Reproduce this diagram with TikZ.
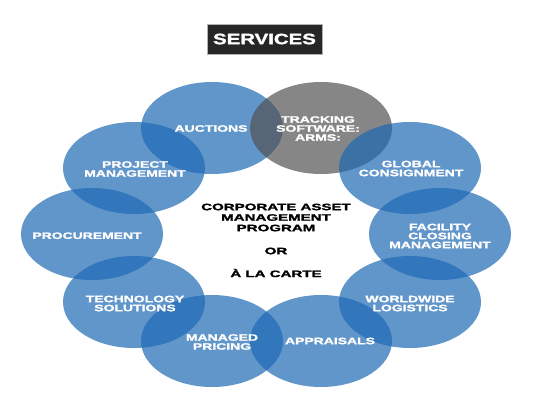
\documentclass[tikz,border=0pt]{standalone}
\usepackage{fontspec}
\setmainfont{Liberation Sans}[BoldFeatures={FakeBold=1.5}]
\usetikzlibrary{shapes.geometric}
\definecolor{bubbleblue}{RGB}{30,105,180}
\definecolor{trackgray}{RGB}{82,82,82}
\definecolor{boxgray}{RGB}{38,38,38}
\begin{document}
\begin{tikzpicture}[x=1pt, y=-1pt,
    bubble/.style={ellipse, fill=bubbleblue, fill opacity=0.7, minimum width=142pt, minimum height=92pt, inner sep=0pt},
    graybubble/.style={bubble, fill=trackgray, fill opacity=0.7},
    lbl/.style={text=white, font=\fontsize{9.3}{9}\selectfont\bfseries, align=center, xscale=1.5, inner sep=0pt},
    midtxt/.style={text=black, font=\fontsize{9.3}{9}\selectfont\bfseries, align=center, xscale=1.62, inner sep=0pt}]
  \useasboundingbox (0,0) rectangle (555,410);
  % bubbles
  \node[bubble] (auc) at (212,128) {};
  \node[graybubble] (trk) at (321,128) {};
  \node[bubble] (glb) at (410,168) {};
  \node[bubble] (fac) at (440,234) {};
  \node[bubble] (wld) at (410,302) {};
  \node[bubble] (apr) at (321,341) {};
  \node[bubble] (mpr) at (212,341) {};
  \node[bubble] (tec) at (134,302) {};
  \node[bubble] (prc) at (92,234) {};
  \node[bubble] (pjm) at (134,168) {};
  % labels
  \node[lbl] (aucl) at (211,128.5) {AUCTIONS};
  \node[lbl] (trkl) at (318,128.5) {TRACKING\\SOFTWARE:\\ARMS:};
  \node[lbl] (glbl) at (411,168.5) {GLOBAL\\CONSIGNMENT};
  \node[lbl] (facl) at (440,236) {FACILITY\\CLOSING\\MANAGEMENT};
  \node[lbl] (wldl) at (410,303.5) {WORLDWIDE\\LOGISTICS};
  \node[lbl] (aprl) at (330,341) {APPRAISALS};
  \node[lbl] (mprl) at (222,342) {MANAGED\\PRICING};
  \node[lbl] (tecl) at (135,303.5) {TECHNOLOGY\\SOLUTIONS};
  \node[lbl] (prcl) at (87,235.7) {PROCUREMENT};
  \node[lbl] (pjml) at (135,169) {PROJECT\\MANAGEMENT};
  % centre text
  \node[midtxt] (prog) at (276,217.5) {CORPORATE ASSET\\[1.5pt]MANAGEMENT\\[1.5pt]PROGRAM};
  \node[midtxt] (or) at (276,251) {OR};
  \node[midtxt] (carte) at (276,273) {À LA CARTE};
  % title
  \node[fill=boxgray, draw=gray!60, text=white, font=\fontsize{15}{15}\selectfont\bfseries,
        xscale=1.36, minimum width=84.5pt, minimum height=30pt, inner sep=0pt] (title) at (264.5,39) {SERVICES};
\end{tikzpicture}
\end{document}
